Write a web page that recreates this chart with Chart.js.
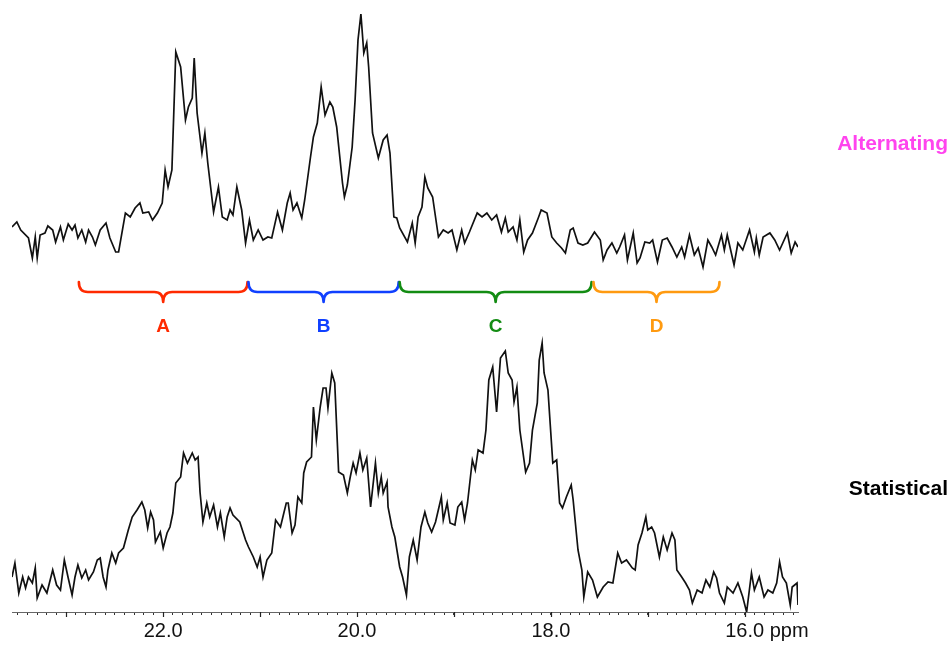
<!DOCTYPE html>
<html>
<head>
<meta charset="utf-8">
<title>13C NMR methyl region</title>
<script src="https://cdn.jsdelivr.net/npm/chart.js@4.4.1/dist/chart.umd.min.js"></script>
<style>
  html, body { margin: 0; padding: 0; background: #ffffff; }
  #wrap { position: relative; width: 952px; height: 651px; }
</style>
</head>
<body>
<div id="wrap"><canvas id="spectrum"></canvas></div>
<script>
// Methyl region of the 13C NMR spectra of two copolymers, drawn as a stacked plot.

// Alternating copolymer: chemical shift (ppm) and intensity (arbitrary units)
const altPpm = [
  23.56, 23.51, 23.47, 23.39, 23.35, 23.32, 23.30, 23.27, 23.22, 23.19,
  23.14, 23.11, 23.06, 23.03, 22.98, 22.94, 22.91, 22.88, 22.84, 22.80,
  22.77, 22.73, 22.70, 22.65, 22.59, 22.55, 22.49, 22.46, 22.39, 22.34,
  22.29, 22.24, 22.21, 22.15, 22.11, 22.06, 22.01, 21.98, 21.95, 21.91,
  21.87, 21.82, 21.77, 21.74, 21.70, 21.68, 21.65, 21.60, 21.57, 21.54,
  21.48, 21.43, 21.39, 21.34, 21.31, 21.28, 21.24, 21.19, 21.15, 21.11,
  21.07, 21.02, 20.97, 20.92, 20.88, 20.82, 20.77, 20.72, 20.69, 20.66,
  20.62, 20.57, 20.54, 20.48, 20.45, 20.41, 20.37, 20.33, 20.28, 20.25,
  20.21, 20.15, 20.13, 20.10, 20.05, 20.02, 19.99, 19.96, 19.93, 19.90,
  19.88, 19.84, 19.78, 19.73, 19.69, 19.66, 19.62, 19.59, 19.56, 19.48,
  19.43, 19.40, 19.37, 19.33, 19.30, 19.27, 19.22, 19.16, 19.11, 19.06,
  19.02, 18.97, 18.92, 18.89, 18.84, 18.76, 18.71, 18.66, 18.61, 18.56,
  18.51, 18.47, 18.44, 18.39, 18.35, 18.32, 18.28, 18.24, 18.19, 18.13,
  18.10, 18.04, 17.99, 17.94, 17.89, 17.85, 17.80, 17.77, 17.72, 17.67,
  17.62, 17.55, 17.49, 17.46, 17.42, 17.37, 17.32, 17.29, 17.24, 17.21,
  17.15, 17.11, 17.08, 17.03, 16.98, 16.95, 16.90, 16.85, 16.80, 16.75,
  16.70, 16.65, 16.62, 16.57, 16.52, 16.48, 16.43, 16.38, 16.34, 16.30,
  16.24, 16.21, 16.18, 16.11, 16.07, 16.02, 15.95, 15.90, 15.88, 15.85,
  15.81, 15.74, 15.69, 15.64, 15.56, 15.52, 15.48, 15.45
];
const altIntensity = [
  13, 18, 10, 2, -18, 3, -18, 5, 7, 14,
  10, -2, 13, 0, 16, 10, 15, 2, 10, -2,
  10, 3, -5, 10, 17, 2, -12, -12, 27, 23,
  32, 37, 27, 28, 20, 27, 37, 70, 53, 70,
  188, 173, 120, 133, 142, 182, 127, 87, 107, 77,
  28, 53, 23, 20, 30, 25, 53, 30, -3, 20,
  0, 10, 0, 3, 2, 28, 10, 37, 47, 30,
  37, 22, 40, 83, 103, 117, 153, 125, 138, 133,
  113, 57, 43, 55, 93, 140, 200, 226, 187, 197,
  173, 107, 82, 100, 105, 87, 23, 22, 12, -2,
  17, -3, 23, 33, 63, 52, 43, 3, 10, 7,
  10, -10, 10, -3, 8, 27, 23, 27, 20, 25,
  8, 22, 8, 13, 0, 20, -12, 0, 7, 22,
  30, 27, 3, -3, -8, -13, 10, 12, -3, -5,
  -3, 8, 0, -20, -10, -3, -13, -7, 5, -20,
  7, -23, -18, -2, -3, 0, -22, 0, 2, -7,
  -17, -7, -17, 5, -15, -8, -27, 0, -7, -15,
  5, -10, 5, -25, -3, -10, 10, -12, 2, -15,
  3, 7, 0, -10, 7, -13, -2, -7
];

// Statistical copolymer: chemical shift (ppm) and intensity (arbitrary units)
const statPpm = [
  23.56, 23.53, 23.49, 23.45, 23.42, 23.39, 23.35, 23.32, 23.30, 23.25,
  23.20, 23.14, 23.10, 23.06, 23.02, 22.98, 22.94, 22.91, 22.88, 22.84,
  22.80, 22.77, 22.72, 22.68, 22.65, 22.62, 22.59, 22.57, 22.53, 22.49,
  22.46, 22.41, 22.36, 22.32, 22.27, 22.22, 22.19, 22.16, 22.13, 22.10,
  22.08, 22.03, 22.00, 21.96, 21.93, 21.90, 21.87, 21.82, 21.79, 21.75,
  21.70, 21.67, 21.64, 21.62, 21.59, 21.55, 21.52, 21.48, 21.44, 21.41,
  21.37, 21.34, 21.31, 21.28, 21.21, 21.15, 21.12, 21.07, 21.03, 21.00,
  20.97, 20.93, 20.88, 20.84, 20.79, 20.76, 20.73, 20.71, 20.67, 20.64,
  20.61, 20.57, 20.55, 20.52, 20.47, 20.45, 20.42, 20.38, 20.35, 20.32,
  20.30, 20.26, 20.23, 20.19, 20.14, 20.10, 20.07, 20.04, 20.01, 19.97,
  19.94, 19.90, 19.86, 19.81, 19.78, 19.75, 19.73, 19.69, 19.68, 19.64,
  19.61, 19.56, 19.53, 19.49, 19.46, 19.42, 19.40, 19.38, 19.34, 19.30,
  19.27, 19.23, 19.19, 19.13, 19.11, 19.07, 19.04, 18.99, 18.96, 18.92,
  18.89, 18.86, 18.81, 18.78, 18.75, 18.70, 18.67, 18.64, 18.60, 18.56,
  18.52, 18.47, 18.44, 18.40, 18.38, 18.35, 18.32, 18.26, 18.22, 18.19,
  18.14, 18.12, 18.09, 18.07, 18.03, 17.98, 17.94, 17.91, 17.88, 17.84,
  17.79, 17.77, 17.72, 17.68, 17.66, 17.62, 17.57, 17.52, 17.46, 17.41,
  17.36, 17.31, 17.27, 17.22, 17.16, 17.13, 17.10, 17.06, 17.02, 17.00,
  16.96, 16.93, 16.88, 16.84, 16.80, 16.75, 16.72, 16.70, 16.65, 16.61,
  16.57, 16.54, 16.49, 16.44, 16.40, 16.36, 16.32, 16.29, 16.26, 16.21,
  16.18, 16.12, 16.07, 16.02, 15.98, 15.93, 15.90, 15.85, 15.80, 15.76,
  15.71, 15.67, 15.64, 15.61, 15.57, 15.53, 15.51, 15.46, 15.45
];
const statIntensity = [
  8, 22, -8, 8, -3, 8, 2, 17, -13, 0,
  -8, 15, 0, -5, 25, 7, -10, 8, 20, 7,
  15, 5, 13, 25, 27, 8, -2, 15, 32, 22,
  32, 37, 55, 68, 75, 83, 75, 57, 73, 65,
  43, 53, 37, 52, 58, 72, 102, 108, 132, 122,
  132, 125, 128, 93, 63, 82, 68, 80, 58, 72,
  48, 68, 77, 70, 63, 45, 38, 28, 18, 28,
  8, 25, 32, 65, 58, 70, 82, 82, 52, 60,
  88, 82, 112, 123, 128, 178, 145, 178, 197, 197,
  177, 212, 202, 113, 110, 92, 108, 122, 112, 132,
  115, 127, 78, 122, 92, 108, 92, 103, 78, 58,
  48, 18, 8, -10, 28, 45, 35, 25, 58, 73,
  62, 53, 63, 88, 65, 82, 62, 60, 78, 83,
  65, 82, 125, 115, 135, 132, 155, 205, 218, 173,
  227, 234, 212, 205, 183, 198, 155, 113, 122, 155,
  182, 225, 242, 212, 195, 122, 125, 82, 77, 88,
  100, 85, 35, 15, -12, 13, 5, -12, -2, 3,
  2, 32, 22, 25, 17, 15, 40, 52, 68, 55,
  58, 52, 28, 48, 35, 52, 45, 15, 8, 2,
  -5, -18, -5, -8, 5, -2, 13, 7, -8, -18,
  -2, -8, 2, -12, -27, 12, -5, 8, -12, -5,
  -8, 2, 23, 8, 2, -20, -2, 2, -20
];

const seriesNames = ['Alternating', 'Statistical'];

// Labelled shifts on the ppm axis and the unit written after the last one
const axisLabelsPpm = [22.0, 20.0, 18.0, 16.0];
const axisUnit = 'ppm';

// Assignment regions marked with braces between the two traces
const regionNames = ['A', 'B', 'C', 'D'];
const regionFrom = [22.87, 21.12, 19.56, 17.56];
const regionTo = [21.13, 19.57, 17.58, 16.26];

// ---- presentation ----
const FONT = "'Liberation Sans', Arial, Helvetica, sans-serif";
const STACK_OFFSET = [372, 27];          // vertical shift of each trace on the stacked plot
const NAME_LEVEL = 96;                    // height above each baseline where the trace name sits
const seriesNameColors = ['#ff44ee', '#000000'];
const regionColors = ['#ff2a00', '#1040ff', '#138c13', '#ff9a10'];
const X_MIN = 15.45, X_MAX = 23.56;
const TICK_LEN = 3, TICK_PAD = 4, TICK_FONT = 20;

function stacked(ppm, intensity, offset) {
  return ppm.map((p, i) => ({ x: p, y: intensity[i] + offset }));
}

const decorations = {
  id: 'decorations',
  afterDraw(chart) {
    const { ctx, chartArea, scales } = chart;
    const x = scales.x, y = scales.y;
    ctx.save();

    // longer marks at every whole ppm
    ctx.strokeStyle = '#222';
    ctx.lineWidth = 1.2;
    for (let v = Math.ceil(X_MIN); v <= Math.floor(X_MAX); v++) {
      const px = Math.round(x.getPixelForValue(v)) + 0.5;
      ctx.beginPath();
      ctx.moveTo(px, chartArea.bottom);
      ctx.lineTo(px, chartArea.bottom + 5);
      ctx.stroke();
    }

    // unit written after the last labelled shift
    const last = axisLabelsPpm[axisLabelsPpm.length - 1];
    const lastText = last.toFixed(1);
    ctx.font = TICK_FONT + 'px ' + FONT;
    ctx.fillStyle = '#111';
    const lx = x.getPixelForValue(last) + ctx.measureText(lastText).width / 2 + ctx.measureText(' ').width;
    let ly = chartArea.bottom + TICK_LEN + TICK_PAD + TICK_FONT * 0.6;
    ctx.textBaseline = 'middle';
    if (typeof x.getLabelItems === 'function') {
      const item = x.getLabelItems().find(it => it.label === lastText);
      if (item) {
        ly = item.options.translation[1] + item.textOffset;
        ctx.textBaseline = item.options.textBaseline;
      }
    }
    ctx.textAlign = 'left';
    ctx.fillText(axisUnit, lx, ly);

    // braces marking the assignment regions
    const top = 282, bar = 292, tip = 302, r = 9, letterY = 327;
    ctx.lineWidth = 2.6;
    ctx.lineCap = 'round';
    ctx.lineJoin = 'round';
    regionNames.forEach((name, i) => {
      const x1 = x.getPixelForValue(regionFrom[i]);
      const x2 = x.getPixelForValue(regionTo[i]);
      const xm = (x1 + x2) / 2;
      ctx.strokeStyle = regionColors[i];
      ctx.beginPath();
      ctx.moveTo(x1, top);
      ctx.quadraticCurveTo(x1, bar, x1 + r, bar);
      ctx.lineTo(xm - r, bar);
      ctx.quadraticCurveTo(xm, bar, xm, tip);
      ctx.moveTo(x2, top);
      ctx.quadraticCurveTo(x2, bar, x2 - r, bar);
      ctx.lineTo(xm + r, bar);
      ctx.quadraticCurveTo(xm, bar, xm, tip);
      ctx.stroke();

      ctx.fillStyle = regionColors[i];
      ctx.font = 'bold 19px ' + FONT;
      ctx.textAlign = 'center';
      ctx.textBaseline = 'middle';
      ctx.fillText(name, xm, letterY);
    });

    // trace names at the right
    ctx.font = 'bold 21px ' + FONT;
    ctx.textAlign = 'right';
    ctx.textBaseline = 'middle';
    seriesNames.forEach((name, i) => {
      ctx.fillStyle = seriesNameColors[i];
      ctx.fillText(name, 948, y.getPixelForValue(STACK_OFFSET[i] + NAME_LEVEL));
    });

    ctx.restore();
  }
};

new Chart(document.getElementById('spectrum'), {
  type: 'line',
  data: {
    datasets: [
      {
        label: seriesNames[0],
        data: stacked(altPpm, altIntensity, STACK_OFFSET[0]),
        borderColor: '#111111',
        borderWidth: 1.7,
        pointRadius: 0,
        tension: 0,
        fill: false
      },
      {
        label: seriesNames[1],
        data: stacked(statPpm, statIntensity, STACK_OFFSET[1]),
        borderColor: '#111111',
        borderWidth: 1.7,
        pointRadius: 0,
        tension: 0,
        fill: false
      }
    ]
  },
  options: {
    responsive: true,
    maintainAspectRatio: false,
    animation: false,
    devicePixelRatio: 1,
    layout: { padding: { left: 12, right: 154, top: 0, bottom: 4 } },
    plugins: { legend: { display: false }, tooltip: { enabled: false } },
    scales: {
      x: {
        type: 'linear',
        reverse: true,
        min: X_MIN,
        max: X_MAX,
        grid: {
          display: true,
          drawOnChartArea: false,
          drawTicks: true,
          tickLength: TICK_LEN,
          tickColor: '#333333',
          tickWidth: 1
        },
        border: { display: true, color: '#666666', width: 1 },
        ticks: {
          stepSize: 0.1,
          autoSkip: false,
          includeBounds: false,
          maxTicksLimit: 200,
          maxRotation: 0,
          padding: TICK_PAD,
          color: '#111111',
          font: { family: FONT, size: TICK_FONT },
          callback: (v) => {
            const hit = axisLabelsPpm.find(t => Math.abs(t - v) < 1e-6);
            return hit === undefined ? '' : hit.toFixed(1);
          }
        }
      },
      y: { display: false, min: 0, max: 612 }
    }
  },
  plugins: [decorations]
});
</script>
</body>
</html>
